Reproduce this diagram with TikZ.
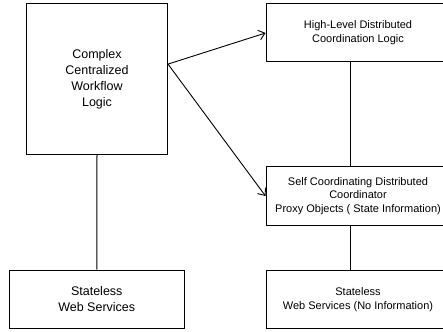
\documentclass[tikz,border=0pt]{standalone}
\usepackage{fontspec}
\setmainfont{Liberation Sans}
\usetikzlibrary{arrows.meta,calc}

\tikzset{
  box/.style={draw=black, line width=1pt, fill=white, inner sep=0pt,
    align=center, anchor=center},
  bigtext/.style={font=\fontsize{12.5}{15.7}\selectfont},
  smalltext/.style={font=\fontsize{11}{13.8}\selectfont},
  link/.style={draw=black, line width=1pt},
  flow/.style={draw=black, line width=0.9pt,
    -{Straight Barb[length=6pt,width=10pt,line width=0.9pt]}},
}

\begin{document}
\begin{tikzpicture}[x=1pt,y=-1pt]
  \useasboundingbox (0,0) rectangle (443,331);
  \clip (0,0) rectangle (443,331);

  % left column: centralized workflow over stateless services
  \node[box, bigtext, minimum width=141pt, minimum height=150.5pt]
    (central) at (97,79.25) {Complex\\Centralized\\Workflow\\Logic};
  \node[box, bigtext, minimum width=175.5pt, minimum height=58.5pt]
    (wsleft) at (96.75,299.25) {Stateless\\Web Services};

  % right column: distributed coordination
  \node[box, smalltext, minimum width=184pt, minimum height=58pt]
    (highlevel) at (358,33) {High-Level Distributed\\Coordination Logic};
  \node[box, smalltext, minimum width=184pt, minimum height=59pt]
    (proxy) at (358,196) {Self Coordinating Distributed\\Coordinator\\Proxy Objects ( State Information)};
  \node[box, smalltext, minimum width=184pt, minimum height=58.5pt]
    (wsright) at (358,299.25) {Stateless\\Web Services (No Information)};

  % vertical connectors
  \coordinate (rx) at (350.7,0);
  \draw[link] (central.south) -- (wsleft.north);
  \draw[link] (highlevel.south -| rx) -- (proxy.north -| rx);
  \draw[link] (proxy.south -| rx) -- (wsright.north -| rx);

  % arrows from the centralized logic
  \coordinate (out) at ($(central.north east)!0.40!(central.south east)$);
  \draw[flow] (out) -- (highlevel.west);
  \draw[flow] (out) -- (proxy.west);
\end{tikzpicture}
\end{document}
